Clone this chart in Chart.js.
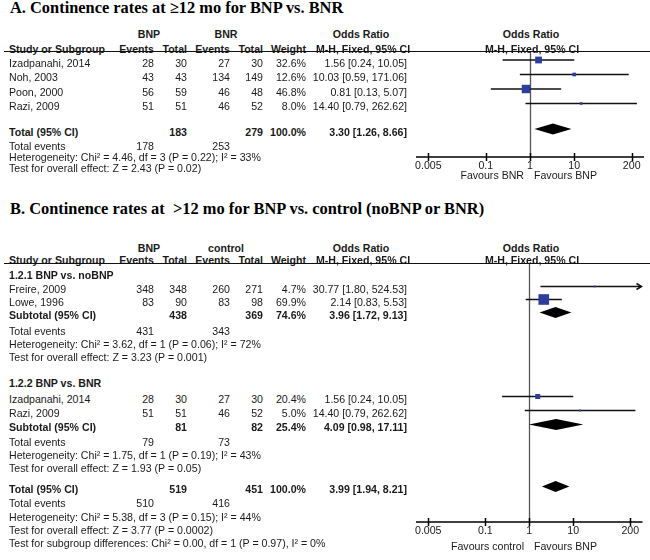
<!DOCTYPE html>
<html>
<head>
<meta charset="utf-8">
<script src="https://cdn.jsdelivr.net/npm/chart.js@4.4.1/dist/chart.umd.min.js"></script>
<style>
  html, body { margin: 0; padding: 0; background: #fff; }
  #page { position: relative; width: 650px; height: 560px; overflow: hidden; font-family: "Liberation Sans", Arial, sans-serif; font-size: 10.6px; color: #1a1a1a; }
  .t { position: absolute; white-space: nowrap; line-height: 12px; }
  .b { font-weight: bold; }
  .title { position: absolute; white-space: nowrap; font-family: "Liberation Serif", "Times New Roman", serif; font-weight: bold; font-size: 16.4px; line-height: 18px; color: #000; }
  .rule { position: absolute; height: 0; border-top: 1.5px solid #111; }
  canvas { position: absolute; }
</style>
</head>
<body>
<div id="page">
  <canvas id="plotA" width="250" height="133" style="left:400px; top:44px;"></canvas>
  <canvas id="plotB" width="250" height="286" style="left:400px; top:256px;"></canvas>
</div>
<script>
// ---- data: panel A (BNP vs. BNR, >=12 mo) ----
const studiesA = ['Izadpanahi, 2014', 'Noh, 2003', 'Poon, 2000', 'Razi, 2009'];
const bnpEventsA = [28, 43, 56, 51];
const bnpTotalA = [30, 43, 59, 51];
const bnrEventsA = [27, 134, 46, 46];
const bnrTotalA = [30, 149, 48, 52];
const weightA = [32.6, 12.6, 46.8, 8.0];
const orA = [1.56, 10.03, 0.81, 14.40];
const loA = [0.24, 0.59, 0.13, 0.79];
const hiA = [10.05, 171.06, 5.07, 262.62];
const pooledA = [3.30, 1.26, 8.66];      // OR, lower, upper
const sumTotalA = [183, 279];
const sumEventsA = [178, 253];
const hetA = 'Heterogeneity: Chi² = 4.46, df = 3 (P = 0.22); I² = 33%';
const testA = 'Test for overall effect: Z = 2.43 (P = 0.02)';

// ---- data: panel B (BNP vs. control, >12 mo) ----
const studiesB1 = ['Freire, 2009', 'Lowe, 1996'];
const bnpEventsB1 = [348, 83];
const bnpTotalB1 = [348, 90];
const ctlEventsB1 = [260, 83];
const ctlTotalB1 = [271, 98];
const weightB1 = [4.7, 69.9];
const orB1 = [30.77, 2.14];
const loB1 = [1.80, 0.83];
const hiB1 = [524.53, 5.53];
const subB1 = [3.96, 1.72, 9.13];
const subWeightB1 = 74.6;
const subTotalB1 = [438, 369];
const subEventsB1 = [431, 343];
const hetB1 = 'Heterogeneity: Chi² = 3.62, df = 1 (P = 0.06); I² = 72%';
const testB1 = 'Test for overall effect: Z = 3.23 (P = 0.001)';

const studiesB2 = ['Izadpanahi, 2014', 'Razi, 2009'];
const bnpEventsB2 = [28, 51];
const bnpTotalB2 = [30, 51];
const ctlEventsB2 = [27, 46];
const ctlTotalB2 = [30, 52];
const weightB2 = [20.4, 5.0];
const orB2 = [1.56, 14.40];
const loB2 = [0.24, 0.79];
const hiB2 = [10.05, 262.62];
const subB2 = [4.09, 0.98, 17.11];
const subWeightB2 = 25.4;
const subTotalB2 = [81, 82];
const subEventsB2 = [79, 73];
const hetB2 = 'Heterogeneity: Chi² = 1.75, df = 1 (P = 0.19); I² = 43%';
const testB2 = 'Test for overall effect: Z = 1.93 (P = 0.05)';

const pooledB = [3.99, 1.94, 8.21];
const sumTotalB = [519, 451];
const sumEventsB = [510, 416];
const hetB = 'Heterogeneity: Chi² = 5.38, df = 3 (P = 0.15); I² = 44%';
const testB = 'Test for overall effect: Z = 3.77 (P = 0.0002)';
const subgroupB = 'Test for subgroup differences: Chi² = 0.00, df = 1 (P = 0.97), I² = 0%';

const tickValues = [0.005, 0.1, 1, 10, 200];
const tickLabels = ['0.005', '0.1', '1', '10', '200'];

// ---- layout ----
const col = { study: 9, ev1: 154, tot1: 187, ev2: 230, tot2: 263, weight: 306, ci: 407, grp1: 149, grp2: 226, orHdr: 361, plotHdr: 531 };
const axisMin = 0.00263, axisMax = 380;
const markLift = 2.5;

const page = document.getElementById('page');

function put(text, x, y, align, bold) {
  const d = document.createElement('div');
  d.className = 't' + (bold ? ' b' : '');
  d.textContent = text;
  d.style.left = x + 'px';
  d.style.top = y + 'px';
  const tx = align === 'right' ? '-100%' : align === 'center' ? '-50%' : '0';
  d.style.transform = 'translate(' + tx + ', -50%)';
  page.appendChild(d);
}
function title(text, y) {
  const d = document.createElement('div');
  d.className = 'title';
  d.textContent = text;
  d.style.left = '10px';
  d.style.top = (y - 9) + 'px';
  page.appendChild(d);
}
function rule(y) {
  const d = document.createElement('div');
  d.className = 'rule';
  d.style.left = '4px';
  d.style.width = '646px';
  d.style.top = (y - 0.75) + 'px';
  page.appendChild(d);
}
const ciText = (o, l, h) => o.toFixed(2) + ' [' + l.toFixed(2) + ', ' + h.toFixed(2) + ']';
const pct = w => w.toFixed(1) + '%';

function headers(y1, y2, grpA, grpB) {
  put(grpA, col.grp1, y1, 'center', true);
  put(grpB, col.grp2, y1, 'center', true);
  put('Odds Ratio', col.orHdr, y1, 'center', true);
  put('Odds Ratio', col.plotHdr, y1, 'center', true);
  put('Study or Subgroup', col.study, y2, 'left', true);
  put('Events', col.ev1, y2, 'right', true);
  put('Total', col.tot1, y2, 'right', true);
  put('Events', col.ev2, y2, 'right', true);
  put('Total', col.tot2, y2, 'right', true);
  put('Weight', col.weight, y2, 'right', true);
  put('M-H, Fixed, 95% CI', col.orHdr + 2, y2, 'center', true);
  put('M-H, Fixed, 95% CI', col.plotHdr + 1, y2, 'center', true);
}
function studyRows(ys, names, e1, t1, e2, t2, w, o, l, h) {
  names.forEach((n, i) => {
    put(n, col.study, ys[i], 'left');
    put(String(e1[i]), col.ev1, ys[i], 'right');
    put(String(t1[i]), col.tot1, ys[i], 'right');
    put(String(e2[i]), col.ev2, ys[i], 'right');
    put(String(t2[i]), col.tot2, ys[i], 'right');
    put(pct(w[i]), col.weight, ys[i], 'right');
    put(ciText(o[i], l[i], h[i]), col.ci, ys[i], 'right');
  });
}
function pooledRow(y, label, totals, w, p) {
  put(label, col.study, y, 'left', true);
  put(String(totals[0]), col.tot1, y, 'right', true);
  put(String(totals[1]), col.tot2, y, 'right', true);
  put(pct(w), col.weight, y, 'right', true);
  put(ciText(p[0], p[1], p[2]), col.ci, y, 'right', true);
}
function eventsRow(y, ev) {
  put('Total events', col.study, y, 'left');
  put(String(ev[0]), col.ev1, y, 'right');
  put(String(ev[1]), col.ev2, y, 'right');
}

// ---- panel A text ----
const rowsA = [62.5, 77, 91.5, 106];
const totalRowA = 131.5;
title('A. Continence rates at ≥12 mo for BNP vs. BNR', 7.5);
headers(34, 48.5, 'BNP', 'BNR');
rule(52);
studyRows(rowsA, studiesA, bnpEventsA, bnpTotalA, bnrEventsA, bnrTotalA, weightA, orA, loA, hiA);
pooledRow(totalRowA, 'Total (95% CI)', sumTotalA, 100, pooledA);
eventsRow(146, sumEventsA);
put(hetA, col.study, 157, 'left');
put(testA, col.study, 168, 'left');
put('Favours BNR', 524, 175, 'right');
put('Favours BNP', 534, 175, 'left');

// ---- panel B text ----
const rowsB1 = [289, 302];
const subRowB1 = 315;
const rowsB2 = [399, 413];
const subRowB2 = 427;
const totalRowB = 489;
title('B. Continence rates at \u00a0>12 mo for BNP vs. control (noBNP or BNR)', 209);
headers(247.5, 260, 'BNP', 'control');
rule(264);
put('1.2.1 BNP vs. noBNP', col.study, 274.5, 'left', true);
studyRows(rowsB1, studiesB1, bnpEventsB1, bnpTotalB1, ctlEventsB1, ctlTotalB1, weightB1, orB1, loB1, hiB1);
pooledRow(subRowB1, 'Subtotal (95% CI)', subTotalB1, subWeightB1, subB1);
eventsRow(331, subEventsB1);
put(hetB1, col.study, 344, 'left');
put(testB1, col.study, 357, 'left');
put('1.2.2 BNP vs. BNR', col.study, 383, 'left', true);
studyRows(rowsB2, studiesB2, bnpEventsB2, bnpTotalB2, ctlEventsB2, ctlTotalB2, weightB2, orB2, loB2, hiB2);
pooledRow(subRowB2, 'Subtotal (95% CI)', subTotalB2, subWeightB2, subB2);
eventsRow(442, subEventsB2);
put(hetB2, col.study, 455, 'left');
put(testB2, col.study, 468, 'left');
pooledRow(totalRowB, 'Total (95% CI)', sumTotalB, 100, pooledB);
eventsRow(503, sumEventsB);
put(hetB, col.study, 517, 'left');
put(testB, col.study, 530, 'left');
put(subgroupB, col.study, 543, 'left');
put('Favours control', 524, 546, 'right');
put('Favours BNP', 534, 546, 'left');

// ---- forest plot drawing ----
const forestPlugin = {
  id: 'forest',
  beforeDatasetsDraw(chart, args, opts) {
    const { ctx, chartArea: a, scales: { x, y } } = chart;
    ctx.save();
    // line of no effect
    const x1 = Math.round(x.getPixelForValue(1)) + 0.5;
    ctx.strokeStyle = '#555';
    ctx.lineWidth = 1.3;
    ctx.beginPath();
    ctx.moveTo(x1, a.top);
    ctx.lineTo(x1, a.bottom);
    ctx.stroke();
    // confidence intervals
    ctx.strokeStyle = '#111';
    ctx.lineWidth = 1.5;
    opts.cis.forEach(c => {
      const py = y.getPixelForValue(c.y);
      const l = Math.max(x.getPixelForValue(c.lo), a.left);
      const r = Math.min(x.getPixelForValue(c.hi), a.right - 1);
      ctx.beginPath();
      ctx.moveTo(l, py);
      ctx.lineTo(r, py);
      ctx.stroke();
      if (c.hi > x.max) {
        ctx.beginPath();
        ctx.moveTo(r - 5, py - 3);
        ctx.lineTo(r, py);
        ctx.lineTo(r - 5, py + 3);
        ctx.stroke();
      }
    });
    // pooled diamonds
    ctx.fillStyle = '#000';
    opts.diamonds.forEach(d => {
      const py = y.getPixelForValue(d.y);
      const h = opts.diamondHalf;
      ctx.beginPath();
      ctx.moveTo(x.getPixelForValue(d.lo), py);
      ctx.lineTo(x.getPixelForValue(d.or), py - h);
      ctx.lineTo(x.getPixelForValue(d.hi), py);
      ctx.lineTo(x.getPixelForValue(d.or), py + h);
      ctx.closePath();
      ctx.fill();
    });
    ctx.restore();
  },
  afterDraw(chart) {
    const { ctx, chartArea: a, scales: { x } } = chart;
    ctx.save();
    ctx.strokeStyle = '#000';
    ctx.lineWidth = 1.5;
    ctx.beginPath();
    ctx.moveTo(a.left, a.bottom);
    ctx.lineTo(a.right, a.bottom);
    x.ticks.forEach(t => {
      const px = Math.round(x.getPixelForValue(t.value)) + 0.5;
      ctx.moveTo(px, a.bottom - 4);
      ctx.lineTo(px, a.bottom + 4);
    });
    ctx.stroke();
    ctx.restore();
  }
};

// square side grows with study weight
const radiusFor = w => Math.max(1.8, 1.45 * Math.sqrt(w) - 1.5) / Math.SQRT2;

function forestChart(id, top, bottom, studies, pooled) {
  return new Chart(document.getElementById(id), {
    type: 'scatter',
    data: {
      datasets: [{
        data: studies.map(s => ({ x: s.or, y: s.y })),
        pointStyle: 'rect',
        pointRadius: studies.map(s => radiusFor(s.w)),
        pointBackgroundColor: '#2c3d9c',
        pointBorderWidth: 0,
        clip: false
      }]
    },
    options: {
      responsive: false,
      animation: false,
      layout: { padding: { left: 16, right: 6, top: 8, bottom: 0 } },
      plugins: {
        legend: { display: false },
        tooltip: { enabled: false },
        forest: {
          cis: studies.map(s => ({ lo: s.lo, hi: s.hi, y: s.y })),
          diamonds: pooled,
          diamondHalf: 5.5
        }
      },
      scales: {
        x: {
          type: 'logarithmic',
          min: axisMin,
          max: axisMax,
          afterBuildTicks: s => { s.ticks = tickValues.map(v => ({ value: v })); },
          afterFit: s => { s.height = 20; },
          grid: { display: false, drawTicks: false },
          border: { display: false },
          ticks: {
            autoSkip: false,
            maxRotation: 0,
            padding: 3,
            color: '#1a1a1a',
            font: { family: '"Liberation Sans", Arial, sans-serif', size: 10.6 },
            callback: (v, i) => tickLabels[i]
          }
        },
        y: { type: 'linear', min: top, max: bottom, reverse: true, display: false }
      }
    },
    plugins: [forestPlugin]
  });
}

function studyMarks(ys, o, l, h, w) {
  return o.map((v, i) => ({ or: v, lo: l[i], hi: h[i], w: w[i], y: ys[i] - markLift }));
}

forestChart('plotA', 52, 157,
  studyMarks(rowsA, orA, loA, hiA, weightA),
  [{ or: pooledA[0], lo: pooledA[1], hi: pooledA[2], y: totalRowA - markLift }]);

forestChart('plotB', 264, 522,
  studyMarks(rowsB1, orB1, loB1, hiB1, weightB1).concat(studyMarks(rowsB2, orB2, loB2, hiB2, weightB2)),
  [
    { or: subB1[0], lo: subB1[1], hi: subB1[2], y: subRowB1 - markLift },
    { or: subB2[0], lo: subB2[1], hi: subB2[2], y: subRowB2 - markLift },
    { or: pooledB[0], lo: pooledB[1], hi: pooledB[2], y: totalRowB - markLift }
  ]);
</script>
</body>
</html>
